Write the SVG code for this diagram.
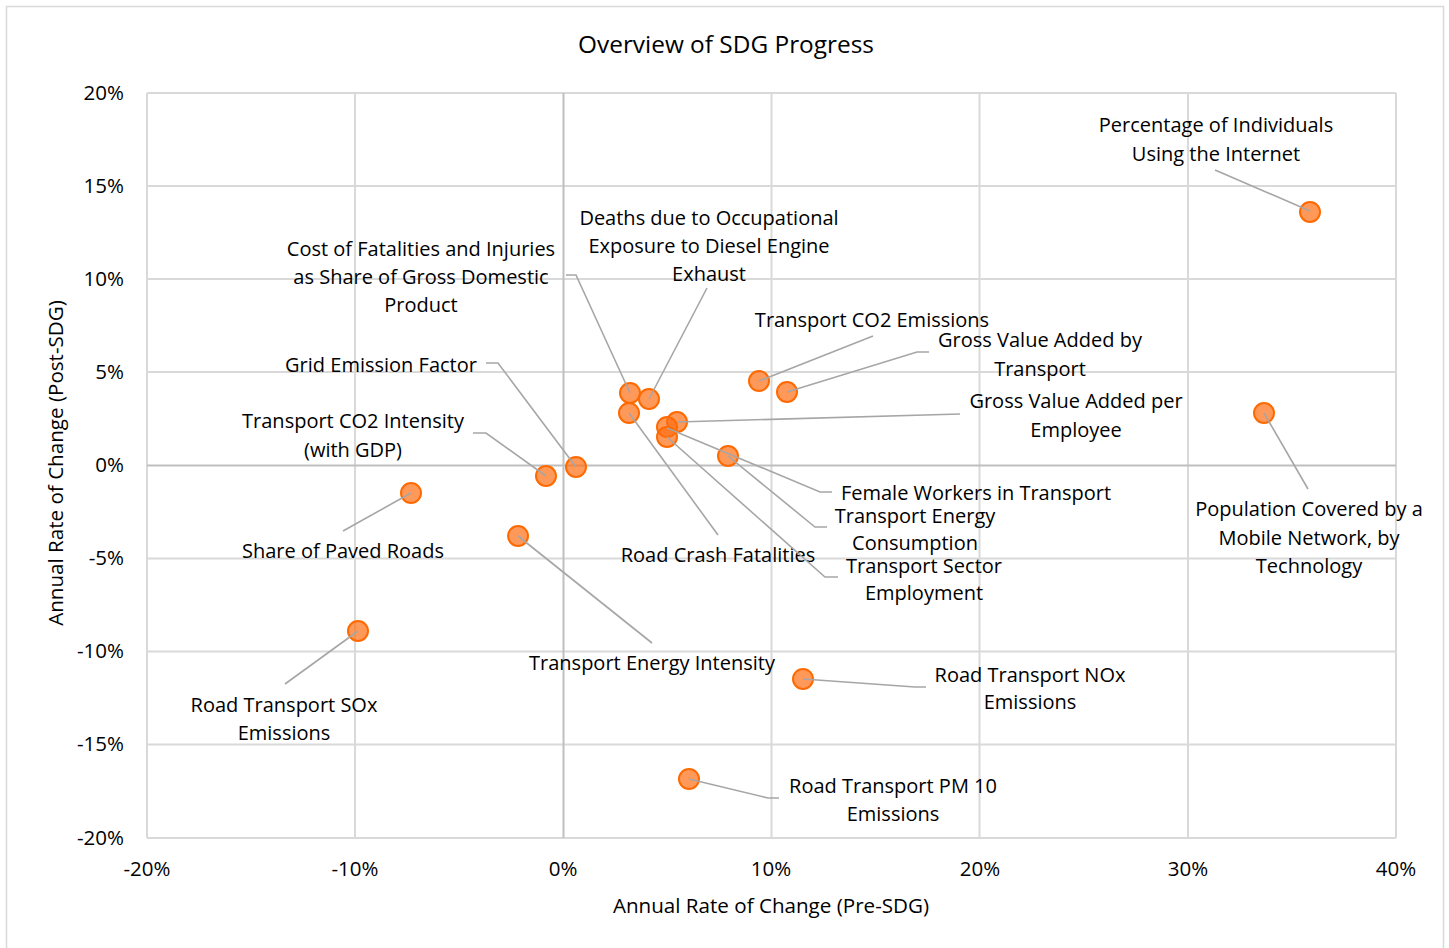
<svg xmlns="http://www.w3.org/2000/svg" width="1449" height="948" viewBox="0 0 1449 948">
<style>
text{font-family:"Open Sans","Noto Sans","DejaVu Sans",sans-serif;fill:#000}
.lbl{font-size:20px;text-anchor:middle}
.tick{font-size:20.5px}
.ty{text-anchor:end}
.tx{text-anchor:middle}
.title{font-size:24.4px;text-anchor:middle}
.axt{font-size:20.6px;text-anchor:middle}
.grid line{stroke:#d9d9d9;stroke-width:2}
.zero{stroke:#bfbfbf;stroke-width:2}
.dot{fill:#ff6e14;fill-opacity:0.7;stroke:#ff6a00;stroke-width:2}
.conn polyline{fill:none;stroke:#a6a6a6;stroke-width:1.6}
</style>
<rect x="0" y="0" width="1449" height="948" fill="#fff"/>
<rect x="6.5" y="6.5" width="1437" height="960" fill="#fff" stroke="#d9d9d9" stroke-width="1.5"/>
<text class="title" x="726" y="53">Overview of SDG Progress</text>
<g class="grid">
<line x1="147" y1="93" x2="1396" y2="93"/>
<line x1="147" y1="186" x2="1396" y2="186"/>
<line x1="147" y1="279" x2="1396" y2="279"/>
<line x1="147" y1="372" x2="1396" y2="372"/>
<line x1="147" y1="558.5" x2="1396" y2="558.5"/>
<line x1="147" y1="651.5" x2="1396" y2="651.5"/>
<line x1="147" y1="744.5" x2="1396" y2="744.5"/>
<line x1="147" y1="838" x2="1396" y2="838"/>
<line x1="147" y1="93" x2="147" y2="838"/>
<line x1="355" y1="93" x2="355" y2="838"/>
<line x1="771.5" y1="93" x2="771.5" y2="838"/>
<line x1="979.5" y1="93" x2="979.5" y2="838"/>
<line x1="1188" y1="93" x2="1188" y2="838"/>
<line x1="1396" y1="93" x2="1396" y2="838"/>
</g>
<line class="zero" x1="147" y1="465.5" x2="1396" y2="465.5"/>
<line class="zero" x1="563.5" y1="93" x2="563.5" y2="838"/>
<g id="y-axis">
<text class="tick ty" x="124" y="100">20%</text>
<text class="tick ty" x="124" y="193">15%</text>
<text class="tick ty" x="124" y="286">10%</text>
<text class="tick ty" x="124" y="379">5%</text>
<text class="tick ty" x="124" y="472">0%</text>
<text class="tick ty" x="124" y="565">-5%</text>
<text class="tick ty" x="124" y="658">-10%</text>
<text class="tick ty" x="124" y="751">-15%</text>
<text class="tick ty" x="124" y="845">-20%</text>
<text class="axt" transform="translate(63,463) rotate(-90)">Annual Rate of Change (Post-SDG)</text>
</g>
<g id="x-axis">
<text class="tick tx" x="147" y="876">-20%</text>
<text class="tick tx" x="355" y="876">-10%</text>
<text class="tick tx" x="563" y="876">0%</text>
<text class="tick tx" x="771" y="876">10%</text>
<text class="tick tx" x="980" y="876">20%</text>
<text class="tick tx" x="1188" y="876">30%</text>
<text class="tick tx" x="1396" y="876">40%</text>
<text class="axt" x="771" y="913">Annual Rate of Change (Pre-SDG)</text>
</g>
<g id="n-internet"><circle class="dot" cx="1310" cy="212" r="10"/><text class="lbl" x="1216" y="132">Percentage of Individuals</text><text class="lbl" x="1216" y="161">Using the Internet</text></g>
<g id="n-mobile"><circle class="dot" cx="1264" cy="413" r="10"/><text class="lbl" x="1309" y="516">Population Covered by a</text><text class="lbl" x="1309" y="545">Mobile Network, by</text><text class="lbl" x="1309" y="573">Technology</text></g>
<g id="n-co2"><circle class="dot" cx="759" cy="381" r="10"/><text class="lbl" x="872" y="327">Transport CO2 Emissions</text></g>
<g id="n-gva"><circle class="dot" cx="787" cy="392" r="10"/><text class="lbl" x="1040" y="347">Gross Value Added by</text><text class="lbl" x="1040" y="376">Transport</text></g>
<g id="n-cost"><circle class="dot" cx="630" cy="393" r="10"/><text class="lbl" x="421" y="256">Cost of Fatalities and Injuries</text><text class="lbl" x="421" y="284">as Share of Gross Domestic</text><text class="lbl" x="421" y="312">Product</text></g>
<g id="n-deaths"><circle class="dot" cx="649" cy="399" r="10"/><text class="lbl" x="709" y="225">Deaths due to Occupational</text><text class="lbl" x="709" y="253">Exposure to Diesel Engine</text><text class="lbl" x="709" y="281">Exhaust</text></g>
<g id="n-crash"><circle class="dot" cx="629" cy="413" r="10"/><text class="lbl" x="718" y="562">Road Crash Fatalities</text></g>
<g id="n-gvae"><circle class="dot" cx="677" cy="422" r="10"/><text class="lbl" x="1076" y="408">Gross Value Added per</text><text class="lbl" x="1076" y="437">Employee</text></g>
<g id="n-female"><circle class="dot" cx="667" cy="427" r="10"/><text class="lbl" x="976" y="500">Female Workers in Transport</text></g>
<g id="n-employment"><circle class="dot" cx="667" cy="437" r="10"/><text class="lbl" x="924" y="573">Transport Sector</text><text class="lbl" x="924" y="600">Employment</text></g>
<g id="n-consumption"><circle class="dot" cx="728" cy="456" r="10"/><text class="lbl" x="915" y="523">Transport Energy</text><text class="lbl" x="915" y="550">Consumption</text></g>
<g id="n-grid"><circle class="dot" cx="576" cy="467" r="10"/><text class="lbl" x="381" y="372">Grid Emission Factor</text></g>
<g id="n-intensity"><circle class="dot" cx="546" cy="476" r="10"/><text class="lbl" x="353" y="428">Transport CO2 Intensity</text><text class="lbl" x="353" y="457">(with GDP)</text></g>
<g id="n-paved"><circle class="dot" cx="411" cy="493" r="10"/><text class="lbl" x="343" y="558">Share of Paved Roads</text></g>
<g id="n-energyint"><circle class="dot" cx="518" cy="536" r="10"/><text class="lbl" x="652" y="670">Transport Energy Intensity</text></g>
<g id="n-sox"><circle class="dot" cx="358" cy="631" r="10"/><text class="lbl" x="284" y="712">Road Transport SOx</text><text class="lbl" x="284" y="740">Emissions</text></g>
<g id="n-nox"><circle class="dot" cx="803" cy="679" r="10"/><text class="lbl" x="1030" y="682">Road Transport NOx</text><text class="lbl" x="1030" y="709">Emissions</text></g>
<g id="n-pm10"><circle class="dot" cx="689" cy="779" r="10"/><text class="lbl" x="893" y="793">Road Transport PM 10</text><text class="lbl" x="893" y="821">Emissions</text></g>
<g id="connectors" class="conn">
<polyline points="1310,211 1215,170"/>
<polyline points="1264,413 1308,489"/>
<polyline points="759,381 873,336"/>
<polyline points="787,392 917,352 929,352"/>
<polyline points="630,393 576,275 566,275"/>
<polyline points="649,399 707,288"/>
<polyline points="629,413 718,535"/>
<polyline points="677,422 960,414"/>
<polyline points="667,428 820,492 832,492"/>
<polyline points="667,437 825,577 838,577"/>
<polyline points="728,456 815,527 827,527"/>
<polyline points="576,467 498,363 486,363"/>
<polyline points="546,476 486,433 473,433"/>
<polyline points="411,493 343,531"/>
<polyline points="518,536 652,643"/>
<polyline points="358,631 285,684"/>
<polyline points="803,679 915,687 926,687"/>
<polyline points="689,779 768,798 779,798"/>
</g>
</svg>
